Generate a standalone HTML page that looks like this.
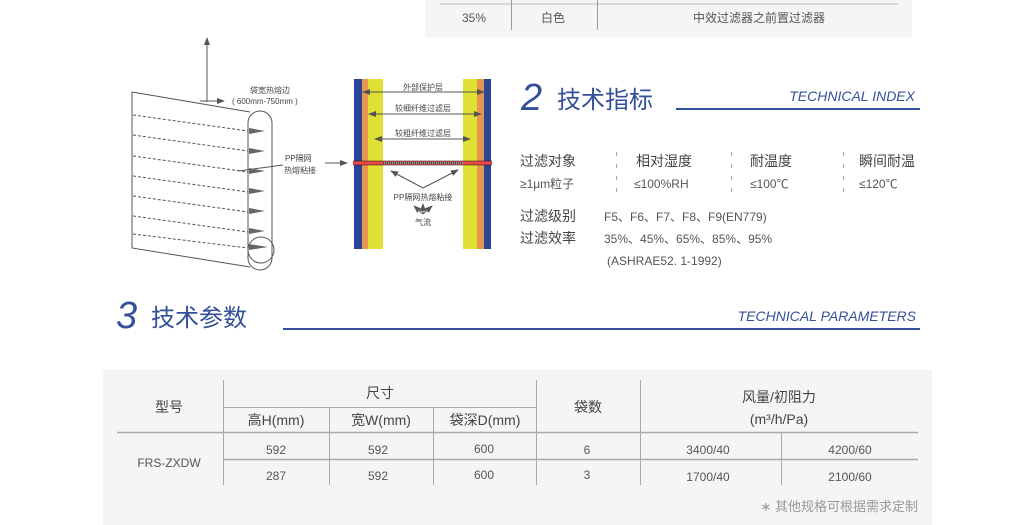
<!DOCTYPE html>
<html><head><meta charset="utf-8"><style>
html,body{margin:0;padding:0;background:#fff;}
svg{display:block;font-family:"Liberation Sans","Noto Sans CJK SC",sans-serif;}
</style></head><body>
<svg width="1031" height="525" viewBox="0 0 1031 525" xmlns="http://www.w3.org/2000/svg">
<defs>
<marker id="ah" markerWidth="8" markerHeight="8" refX="7" refY="4" orient="auto" markerUnits="userSpaceOnUse"><path d="M0,1 L8,4 L0,7 Z" fill="#555"/></marker>
<marker id="ahs" markerWidth="8" markerHeight="8" refX="1" refY="4" orient="auto" markerUnits="userSpaceOnUse"><path d="M8,1 L0,4 L8,7 Z" fill="#555"/></marker>
</defs>
<!-- top table -->
<rect x="425" y="0" width="487" height="37" fill="#f5f5f5"/>
<line x1="440" y1="4" x2="898" y2="4" stroke="#bbb" stroke-width="1"/>
<line x1="511.5" y1="0" x2="511.5" y2="30" stroke="#999"/>
<line x1="597.5" y1="0" x2="597.5" y2="30" stroke="#999"/>
<g font-size="12" fill="#555" text-anchor="middle">
<text x="474" y="22">35%</text><text x="553" y="22">白色</text><text x="759" y="22">中效过滤器之前置过滤器</text>
</g>
<!-- left bag diagram -->
<g stroke="#555" fill="none" stroke-width="1">
<line x1="207" y1="102" x2="207" y2="38" marker-end="url(#ah)"/>
<line x1="200" y1="101" x2="224" y2="101" marker-end="url(#ah)"/>
<path d="M132,92 L250,112 M132,92 L132,248 L250,267"/>
<rect x="248" y="111" width="24" height="159" rx="12" ry="12"/>
<circle cx="261" cy="250" r="13"/>
<g stroke-dasharray="3,2">
<line x1="133" y1="115" x2="248" y2="131"/>
<line x1="133" y1="135" x2="248" y2="151"/>
<line x1="133" y1="156" x2="248" y2="172"/>
<line x1="133" y1="176" x2="248" y2="192"/>
<line x1="133" y1="196" x2="248" y2="212"/>
<line x1="133" y1="216" x2="248" y2="232"/>
<line x1="133" y1="234" x2="248" y2="248"/>
</g>
<line x1="238" y1="171" x2="283" y2="165"/>
<line x1="325" y1="163" x2="347" y2="163" marker-end="url(#ah)"/>
</g>
<g fill="#666">
<path d="M249,128 L265,131 L249,134Z"/><path d="M249,148 L265,151 L249,154Z"/><path d="M249,168 L265,171 L249,174Z"/>
<path d="M249,188 L265,191 L249,194Z"/><path d="M249,208 L265,211 L249,214Z"/><path d="M249,228 L265,231 L249,234Z"/><path d="M249,244 L268,247 L249,250Z"/>
</g>
<g font-size="8" fill="#444">
<text x="250" y="93">袋宽热熔边</text>
<text x="232" y="104">( 600mm-750mm )</text>
<text x="285" y="161">PP隔网</text>
<text x="284" y="173">热熔粘接</text>
</g>
<!-- right layers -->
<rect x="354" y="79" width="8" height="170" fill="#2e4497"/>
<rect x="362" y="79" width="6" height="170" fill="#e6964f"/>
<rect x="368" y="79" width="15" height="170" fill="#e1e034"/>
<rect x="463" y="79" width="14" height="170" fill="#e1e034"/>
<rect x="477" y="79" width="7" height="170" fill="#e6964f"/>
<rect x="484" y="79" width="7" height="170" fill="#2e4497"/>
<rect x="353" y="161" width="139" height="4" fill="#e84848"/>
<rect x="383" y="162" width="80" height="2" fill="#999"/>
<line x1="383" y1="163" x2="463" y2="163" stroke="#333" stroke-width="1.5" stroke-dasharray="1,1"/>
<line x1="353" y1="161" x2="492" y2="161" stroke="#111" stroke-width="0.6"/>
<line x1="353" y1="165" x2="492" y2="165" stroke="#111" stroke-width="0.6"/>
<g stroke="#555" stroke-width="1">
<line x1="363" y1="92" x2="484" y2="92" marker-start="url(#ahs)" marker-end="url(#ah)"/>
<line x1="369" y1="114" x2="481" y2="114" marker-start="url(#ahs)" marker-end="url(#ah)"/>
<line x1="375" y1="139" x2="470" y2="139" marker-start="url(#ahs)" marker-end="url(#ah)"/>
<line x1="423" y1="188" x2="391" y2="171" marker-end="url(#ah)"/>
<line x1="423" y1="188" x2="458" y2="170" marker-end="url(#ah)"/>
<line x1="423" y1="214" x2="414" y2="206" marker-end="url(#ah)"/>
<line x1="423" y1="214" x2="423" y2="204" marker-end="url(#ah)"/>
<line x1="423" y1="214" x2="432" y2="206" marker-end="url(#ah)"/>
</g>
<g font-size="8" fill="#444" text-anchor="middle">
<text x="423" y="90">外部保护层</text>
<text x="423" y="111">较细纤维过滤层</text>
<text x="423" y="136">较粗纤维过滤层</text>
<text x="423" y="200">PP隔网热熔粘接</text>
<text x="423" y="225">气流</text>
</g>
<!-- section 2 -->
<text x="521" y="110" font-size="38" font-style="italic" fill="#34509a" font-family="Liberation Sans,sans-serif">2</text>
<text x="557" y="108" font-size="24" fill="#34509a">技术指标</text>
<line x1="676" y1="109" x2="920" y2="109" stroke="#34509a" stroke-width="2"/>
<text x="915" y="101" font-size="14" font-style="italic" fill="#34509a" text-anchor="end">TECHNICAL INDEX</text>
<g font-size="14" fill="#444">
<text x="520" y="166">过滤对象</text><text x="636" y="166">相对湿度</text><text x="750" y="166">耐温度</text><text x="859" y="166">瞬间耐温</text>
<text x="520" y="221">过滤级别</text><text x="520" y="243">过滤效率</text>
</g>
<g font-size="12" fill="#555">
<text x="520" y="188">≥1μm粒子</text><text x="634" y="188">≤100%RH</text><text x="750" y="188">≤100℃</text><text x="859" y="188">≤120℃</text>
<text x="604" y="221">F5、F6、F7、F8、F9(EN779)</text>
<text x="604" y="243">35%、45%、65%、85%、95%</text>
<text x="607" y="265">(ASHRAE52. 1-1992)</text>
</g>
<g stroke="#aaa" stroke-dasharray="4,8">
<line x1="616.5" y1="152" x2="616.5" y2="192"/><line x1="731.5" y1="152" x2="731.5" y2="192"/><line x1="843.5" y1="152" x2="843.5" y2="192"/>
</g>
<!-- section 3 -->
<text x="116" y="328" font-size="38" font-style="italic" fill="#34509a">3</text>
<text x="151" y="326" font-size="24" fill="#34509a">技术参数</text>
<line x1="283" y1="329" x2="920" y2="329" stroke="#34509a" stroke-width="2"/>
<text x="916" y="321" font-size="14" font-style="italic" fill="#34509a" text-anchor="end">TECHNICAL PARAMETERS</text>
<!-- params table -->
<rect x="103" y="370" width="829" height="155" fill="#f5f5f5"/>
<g stroke="#aaa" stroke-width="1">
<line x1="117" y1="432.5" x2="918" y2="432.5" stroke-width="1.5"/>
<line x1="223" y1="407.5" x2="536" y2="407.5"/>
<line x1="223" y1="459.5" x2="918" y2="459.5" stroke-width="1.5"/>
<line x1="223.5" y1="380" x2="223.5" y2="485"/>
<line x1="536.5" y1="380" x2="536.5" y2="485"/>
<line x1="640.5" y1="380" x2="640.5" y2="485"/>
<line x1="329.5" y1="407" x2="329.5" y2="485"/>
<line x1="433.5" y1="407" x2="433.5" y2="485"/>
<line x1="781.5" y1="432" x2="781.5" y2="485"/>
</g>
<g font-size="14" fill="#444" text-anchor="middle">
<text x="169" y="412">型号</text>
<text x="380" y="398">尺寸</text>
<text x="276" y="425">高H(mm)</text>
<text x="381" y="425">宽W(mm)</text>
<text x="485" y="425">袋深D(mm)</text>
<text x="588" y="412">袋数</text>
<text x="779" y="402">风量/初阻力</text>
<text x="779" y="424">(m³/h/Pa)</text>
</g>
<g font-size="12" fill="#555" text-anchor="middle">
<text x="169" y="467">FRS-ZXDW</text>
<text x="276" y="454">592</text><text x="378" y="454">592</text><text x="484" y="453">600</text><text x="587" y="454">6</text><text x="708" y="454">3400/40</text><text x="850" y="454">4200/60</text>
<text x="276" y="480">287</text><text x="378" y="480">592</text><text x="484" y="479">600</text><text x="587" y="479">3</text><text x="708" y="481">1700/40</text><text x="850" y="481">2100/60</text>
</g>
<text x="918" y="511" font-size="13" fill="#999" text-anchor="end">∗ 其他规格可根据需求定制</text>
</svg>
</body></html>
